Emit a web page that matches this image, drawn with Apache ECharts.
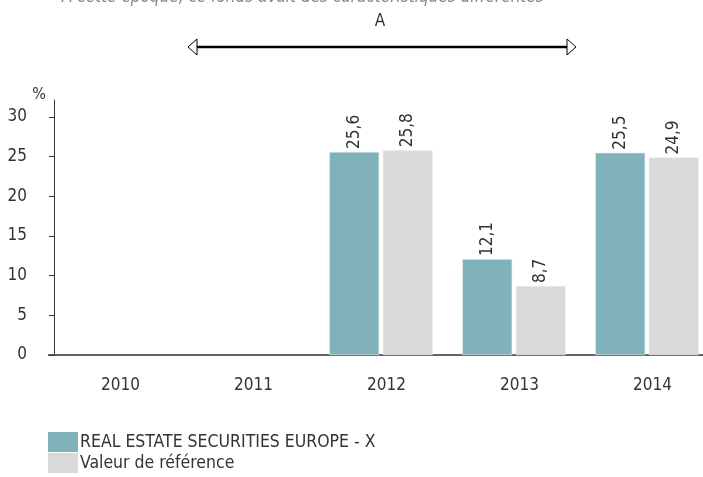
<!DOCTYPE html>
<html lang="fr">
<head>
    <meta charset="UTF-8">
    <title>Performances annuelles</title>
    <script src="https://cdn.jsdelivr.net/npm/echarts@6/dist/echarts.min.js"></script>
    <style>
        html, body { margin: 0; padding: 0; background: #fff; overflow: hidden; }
        /* le graphique d'origine est rogné à droite : zone un peu plus large que la fenêtre */
        #main { width: 719px; height: 477px; }
    </style>
</head>
<body>
    <div id="main"></div>
    <script>
        // données
        const years = ['2010', '2011', '2012', '2013', '2014']
        const fundName = 'REAL ESTATE SECURITIES EUROPE - X'
        const benchName = 'Valeur de référence'
        const fundValues = [null, null, 25.6, 12.1, 25.5]
        const benchValues = [null, null, 25.8, 8.7, 24.9]
        const yTicks = [0, 5, 10, 15, 20, 25, 30]

        const font = '"DejaVu Sans Condensed", "DejaVu Sans", sans-serif'
        const txt = '#333'

        function init () {
            const myChart = echarts.init(document.getElementById('main'), null, { renderer: 'canvas' })

            const barLabel = {
                show: true,
                position: 'top',
                rotate: 90,
                align: 'left',
                verticalAlign: 'middle',
                distance: 3,
                color: txt,
                fontFamily: font,
                fontSize: 17,
                formatter: p => String(p.value).replace('.', ',')
            }

            const option = {
                animation: false,
                textStyle: { fontFamily: font },
                // les barres sont un peu décalées à gauche des libellés d'années
                grid: { left: 48.5, top: 100, right: 5.5, bottom: 122 },
                legend: {
                    orient: 'vertical',
                    left: 48,
                    top: 432,
                    height: 120,
                    padding: 0,
                    icon: 'rect',
                    itemWidth: 30,
                    itemHeight: 20,
                    itemGap: 1,
                    itemStyle: { borderWidth: 0 },
                    textStyle: { color: txt, fontSize: 17.5, fontFamily: font, padding: [0, 0, 0, -3] },
                    data: [fundName, benchName]
                },
                xAxis: {
                    type: 'category',
                    data: years,
                    axisLine: { lineStyle: { color: txt, width: 1.5 } },
                    axisTick: { show: false },
                    axisLabel: { color: txt, fontSize: 17, margin: 22, padding: [0, 0, 0, 11], fontFamily: font }
                },
                yAxis: {
                    type: 'value',
                    min: 0,
                    max: 32.14,
                    offset: -5.5,
                    name: '%',
                    nameLocation: 'end',
                    nameGap: -3,
                    nameTextStyle: { color: txt, fontSize: 16, align: 'right', padding: [0, 8, 0, 0], fontFamily: font },
                    splitLine: { show: false },
                    axisLine: { show: true, lineStyle: { color: txt, width: 1 } },
                    axisTick: { show: true, length: 5, inside: false, customValues: yTicks, lineStyle: { color: txt } },
                    axisLabel: { color: txt, fontSize: 17, margin: 27, align: 'right', customValues: yTicks, fontFamily: font }
                },
                series: [
                    {
                        name: fundName,
                        type: 'bar',
                        data: fundValues,
                        barWidth: 50,
                        barGap: '7%',
                        itemStyle: { color: '#80B3B9', borderColor: '#E6F0F1', borderWidth: 0.6 },
                        label: barLabel
                    },
                    {
                        name: benchName,
                        type: 'bar',
                        data: benchValues,
                        barWidth: 50,
                        itemStyle: { color: '#D9D9D9', borderColor: '#EEEEEE', borderWidth: 0.6 },
                        label: barLabel
                    }
                ],
                graphic: [
                    {
                        type: 'text',
                        left: 62,
                        top: -11,
                        style: {
                            text: 'A cette époque, ce fonds avait des caractéristiques différentes',
                            fill: '#888',
                            font: 'italic 17px ' + font
                        }
                    },
                    {
                        type: 'text',
                        x: 380,
                        y: 22,
                        style: { text: 'A', fill: txt, font: '17px ' + font, align: 'center', verticalAlign: 'middle' }
                    },
                    {
                        type: 'line',
                        shape: { x1: 196, y1: 47, x2: 567, y2: 47 },
                        style: { stroke: '#000', lineWidth: 2.5 }
                    },
                    {
                        type: 'polygon',
                        shape: { points: [[188, 47], [197, 39], [197, 55]] },
                        style: { fill: '#fff', stroke: '#000', lineWidth: 1 }
                    },
                    {
                        type: 'polygon',
                        shape: { points: [[576, 47], [567, 39], [567, 55]] },
                        style: { fill: '#fff', stroke: '#000', lineWidth: 1 }
                    }
                ]
            }

            myChart.setOption(option)
        }

        init()
    </script>
</body>
</html>
